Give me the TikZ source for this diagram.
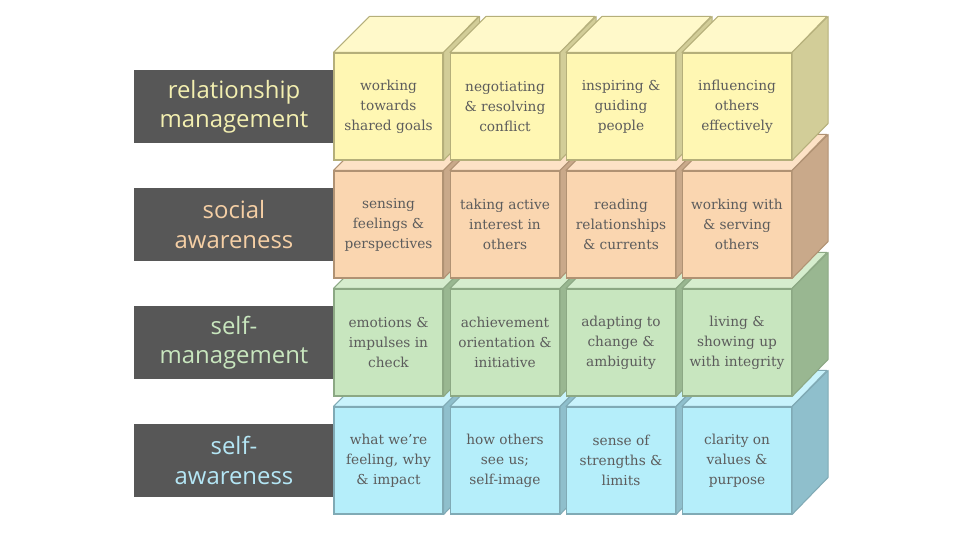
\documentclass[tikz,border=0pt]{standalone}
\usepackage{fontspec}
\newfontfamily\tagfont{Open Sans}
\newfontfamily\cubefont{DejaVu Serif}
\definecolor{tagdark}{HTML}{575757}
\definecolor{yelfront}{HTML}{FFF7B3}
\definecolor{yeltopc}{HTML}{FFF9CA}
\definecolor{yelsidec}{HTML}{D2CD98}
\definecolor{yeledge}{HTML}{B5AF7A}
\definecolor{yeltext}{HTML}{F3EFB0}
\definecolor{pchfront}{HTML}{FAD6B0}
\definecolor{pchtopc}{HTML}{FDE2C6}
\definecolor{pchsidec}{HTML}{C9A98A}
\definecolor{pchedge}{HTML}{B09273}
\definecolor{pchtext}{HTML}{F5CFA5}
\definecolor{grnfront}{HTML}{C8E6BF}
\definecolor{grntopc}{HTML}{D6EDCE}
\definecolor{grnsidec}{HTML}{99B791}
\definecolor{grnedge}{HTML}{8CA884}
\definecolor{grntext}{HTML}{C8E6BE}
\definecolor{blufront}{HTML}{B5EEFA}
\definecolor{blutopc}{HTML}{C9F3FC}
\definecolor{blusidec}{HTML}{8FBFCC}
\definecolor{bluedge}{HTML}{80AAB5}
\definecolor{blutext}{HTML}{B4E6F5}
\tikzset{
  rowtag/.style={fill=tagdark, minimum width=4cm, minimum height=1.46cm, inner sep=0pt, align=center, font={\tagfont\fontsize{13.6}{16.6}\selectfont}},
  cubefront/.style={line width=0.6pt, minimum width=2.18cm, minimum height=2.14cm, inner sep=0pt, align=center, text=black!64, font={\cubefont\fontsize{7.8}{11.4}\selectfont}},
  yelcube/.style={cubefront, fill=yelfront, draw=yeledge},
  pchcube/.style={cubefront, fill=pchfront, draw=pchedge},
  grncube/.style={cubefront, fill=grnfront, draw=grnedge},
  blucube/.style={cubefront, fill=blufront, draw=bluedge},
  yeltop/.style={fill=yeltopc, draw=yeledge, line width=0.6pt, line join=round},
  yelside/.style={fill=yelsidec, draw=yeledge, line width=0.6pt, line join=round},
  pchtop/.style={fill=pchtopc, draw=pchedge, line width=0.6pt, line join=round},
  pchside/.style={fill=pchsidec, draw=pchedge, line width=0.6pt, line join=round},
  grntop/.style={fill=grntopc, draw=grnedge, line width=0.6pt, line join=round},
  grnside/.style={fill=grnsidec, draw=grnedge, line width=0.6pt, line join=round},
  blutop/.style={fill=blutopc, draw=bluedge, line width=0.6pt, line join=round},
  bluside/.style={fill=blusidec, draw=bluedge, line width=0.6pt, line join=round},
}
\begin{document}
\begin{tikzpicture}
\useasboundingbox (0,0) rectangle (19.2,10.8);
% row tags
\node[rowtag, text=yeltext] (tag1) at (4.680,8.670) {relationship\\management};
\node[rowtag, text=pchtext] (tag2) at (4.680,6.310) {social\\awareness};
\node[rowtag, text=grntext] (tag3) at (4.680,3.950) {self-\\management};
\node[rowtag, text=blutext] (tag4) at (4.680,1.590) {self-\\awareness};
% self-awareness
\node[blucube] (r4c1) at (7.770,1.590) {what we’re\\feeling, why\\\& impact};
\draw[blutop] (r4c1.north west) -- ++(0.72,0.72) -- ++(2.18,0) -- (r4c1.north east) -- cycle;
\draw[bluside] (r4c1.north east) -- ++(0.72,0.72) -- ++(0,-2.14) -- (r4c1.south east) -- cycle;
\node[blucube] (r4c2) at (10.100,1.590) {how others\\see us;\\self-image};
\draw[blutop] (r4c2.north west) -- ++(0.72,0.72) -- ++(2.18,0) -- (r4c2.north east) -- cycle;
\draw[bluside] (r4c2.north east) -- ++(0.72,0.72) -- ++(0,-2.14) -- (r4c2.south east) -- cycle;
\node[blucube] (r4c3) at (12.420,1.590) {sense of\\strengths \&\\limits};
\draw[blutop] (r4c3.north west) -- ++(0.72,0.72) -- ++(2.18,0) -- (r4c3.north east) -- cycle;
\draw[bluside] (r4c3.north east) -- ++(0.72,0.72) -- ++(0,-2.14) -- (r4c3.south east) -- cycle;
\node[blucube] (r4c4) at (14.740,1.590) {clarity on\\values \&\\purpose};
\draw[blutop] (r4c4.north west) -- ++(0.72,0.72) -- ++(2.18,0) -- (r4c4.north east) -- cycle;
\draw[bluside] (r4c4.north east) -- ++(0.72,0.72) -- ++(0,-2.14) -- (r4c4.south east) -- cycle;
% self-management
\node[grncube] (r3c1) at (7.770,3.950) {emotions \&\\impulses in\\check};
\draw[grntop] (r3c1.north west) -- ++(0.72,0.72) -- ++(2.18,0) -- (r3c1.north east) -- cycle;
\draw[grnside] (r3c1.north east) -- ++(0.72,0.72) -- ++(0,-2.14) -- (r3c1.south east) -- cycle;
\node[grncube] (r3c2) at (10.100,3.950) {achievement\\orientation \&\\initiative};
\draw[grntop] (r3c2.north west) -- ++(0.72,0.72) -- ++(2.18,0) -- (r3c2.north east) -- cycle;
\draw[grnside] (r3c2.north east) -- ++(0.72,0.72) -- ++(0,-2.14) -- (r3c2.south east) -- cycle;
\node[grncube] (r3c3) at (12.420,3.950) {adapting to\\change \&\\ambiguity};
\draw[grntop] (r3c3.north west) -- ++(0.72,0.72) -- ++(2.18,0) -- (r3c3.north east) -- cycle;
\draw[grnside] (r3c3.north east) -- ++(0.72,0.72) -- ++(0,-2.14) -- (r3c3.south east) -- cycle;
\node[grncube] (r3c4) at (14.740,3.950) {living \&\\showing up\\with integrity};
\draw[grntop] (r3c4.north west) -- ++(0.72,0.72) -- ++(2.18,0) -- (r3c4.north east) -- cycle;
\draw[grnside] (r3c4.north east) -- ++(0.72,0.72) -- ++(0,-2.14) -- (r3c4.south east) -- cycle;
% social awareness
\node[pchcube] (r2c1) at (7.770,6.310) {sensing\\feelings \&\\perspectives};
\draw[pchtop] (r2c1.north west) -- ++(0.72,0.72) -- ++(2.18,0) -- (r2c1.north east) -- cycle;
\draw[pchside] (r2c1.north east) -- ++(0.72,0.72) -- ++(0,-2.14) -- (r2c1.south east) -- cycle;
\node[pchcube] (r2c2) at (10.100,6.310) {taking active\\interest in\\others};
\draw[pchtop] (r2c2.north west) -- ++(0.72,0.72) -- ++(2.18,0) -- (r2c2.north east) -- cycle;
\draw[pchside] (r2c2.north east) -- ++(0.72,0.72) -- ++(0,-2.14) -- (r2c2.south east) -- cycle;
\node[pchcube] (r2c3) at (12.420,6.310) {reading\\relationships\\\& currents};
\draw[pchtop] (r2c3.north west) -- ++(0.72,0.72) -- ++(2.18,0) -- (r2c3.north east) -- cycle;
\draw[pchside] (r2c3.north east) -- ++(0.72,0.72) -- ++(0,-2.14) -- (r2c3.south east) -- cycle;
\node[pchcube] (r2c4) at (14.740,6.310) {working with\\\& serving\\others};
\draw[pchtop] (r2c4.north west) -- ++(0.72,0.72) -- ++(2.18,0) -- (r2c4.north east) -- cycle;
\draw[pchside] (r2c4.north east) -- ++(0.72,0.72) -- ++(0,-2.14) -- (r2c4.south east) -- cycle;
% relationship management
\node[yelcube] (r1c1) at (7.770,8.670) {working\\towards\\shared goals};
\draw[yeltop] (r1c1.north west) -- ++(0.72,0.72) -- ++(2.18,0) -- (r1c1.north east) -- cycle;
\draw[yelside] (r1c1.north east) -- ++(0.72,0.72) -- ++(0,-2.14) -- (r1c1.south east) -- cycle;
\node[yelcube] (r1c2) at (10.100,8.670) {negotiating\\\& resolving\\conflict};
\draw[yeltop] (r1c2.north west) -- ++(0.72,0.72) -- ++(2.18,0) -- (r1c2.north east) -- cycle;
\draw[yelside] (r1c2.north east) -- ++(0.72,0.72) -- ++(0,-2.14) -- (r1c2.south east) -- cycle;
\node[yelcube] (r1c3) at (12.420,8.670) {inspiring \&\\guiding\\people};
\draw[yeltop] (r1c3.north west) -- ++(0.72,0.72) -- ++(2.18,0) -- (r1c3.north east) -- cycle;
\draw[yelside] (r1c3.north east) -- ++(0.72,0.72) -- ++(0,-2.14) -- (r1c3.south east) -- cycle;
\node[yelcube] (r1c4) at (14.740,8.670) {influencing\\others\\effectively};
\draw[yeltop] (r1c4.north west) -- ++(0.72,0.72) -- ++(2.18,0) -- (r1c4.north east) -- cycle;
\draw[yelside] (r1c4.north east) -- ++(0.72,0.72) -- ++(0,-2.14) -- (r1c4.south east) -- cycle;
\end{tikzpicture}
\end{document}
